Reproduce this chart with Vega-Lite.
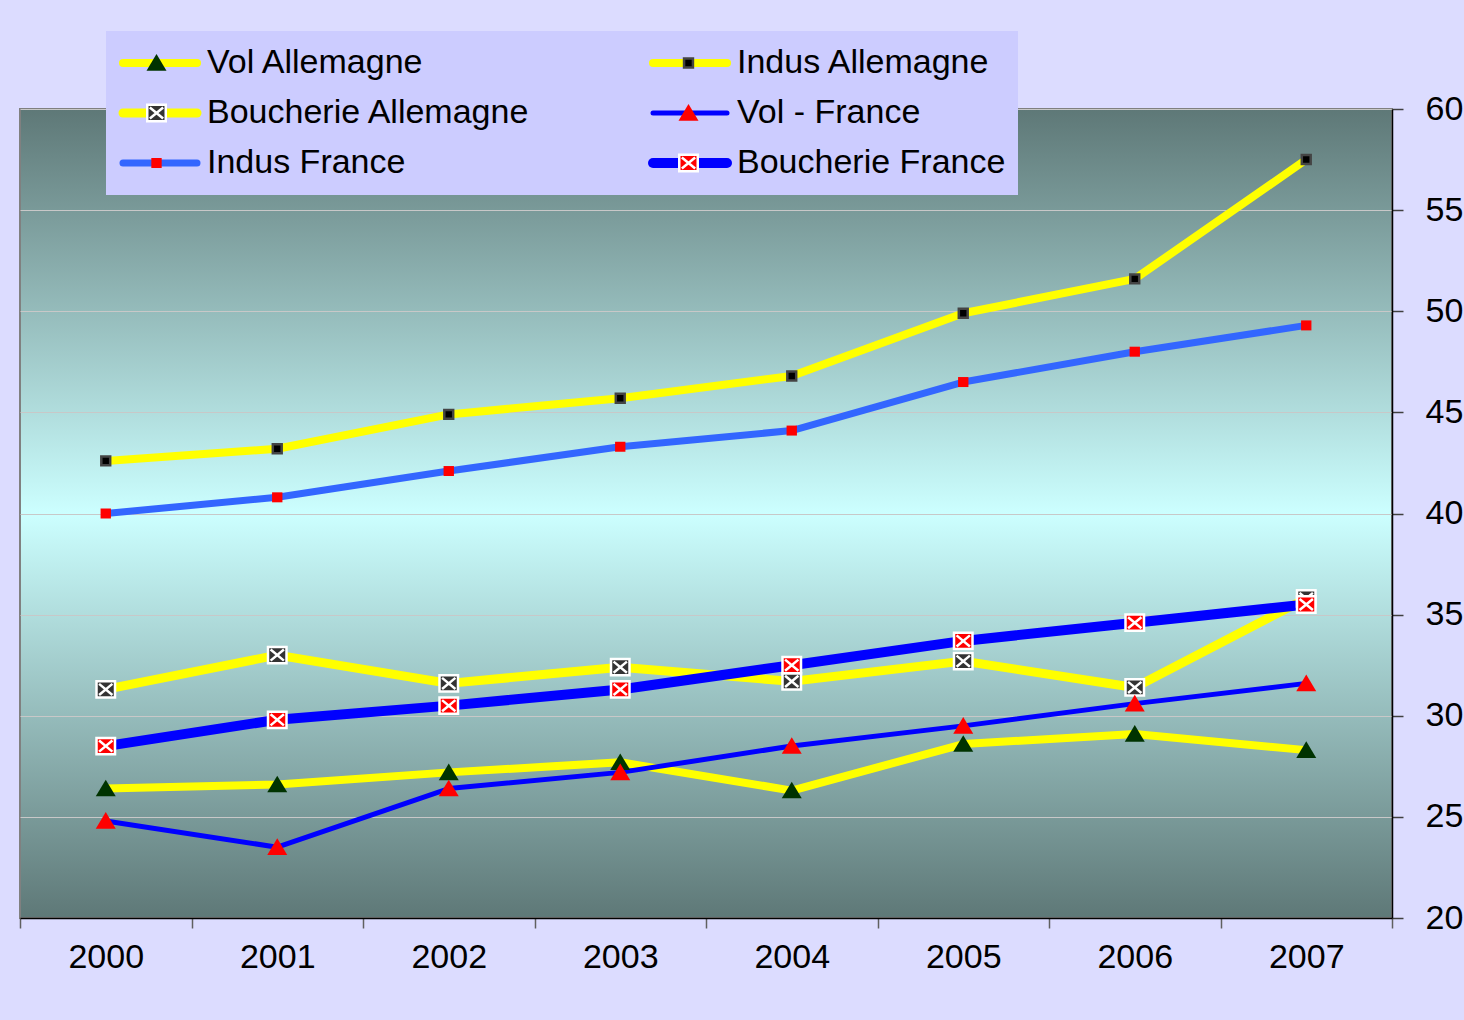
{
  "$schema": "https://vega.github.io/schema/vega-lite/v6.json",
  "width": 1372,
  "height": 809,
  "autosize": "none",
  "padding": {"left": 20, "top": 109, "right": 72, "bottom": 102},
  "background": "#DCDCFF",
  "view": {
    "stroke": "#808080",
    "strokeWidth": 2,
    "fill": {
      "gradient": "linear",
      "x1": 0, "y1": 0, "x2": 0, "y2": 1,
      "stops": [
        {"offset": 0, "color": "#5E7877"},
        {"offset": 0.5, "color": "#CCFFFF"},
        {"offset": 1, "color": "#5E7877"}
      ]
    }
  },
  "data": {
    "values": [
      {"annee": "2000", "serie": "Vol Allemagne", "valeur": 26.4},
      {"annee": "2001", "serie": "Vol Allemagne", "valeur": 26.6},
      {"annee": "2002", "serie": "Vol Allemagne", "valeur": 27.2},
      {"annee": "2003", "serie": "Vol Allemagne", "valeur": 27.7},
      {"annee": "2004", "serie": "Vol Allemagne", "valeur": 26.3},
      {"annee": "2005", "serie": "Vol Allemagne", "valeur": 28.6},
      {"annee": "2006", "serie": "Vol Allemagne", "valeur": 29.1},
      {"annee": "2007", "serie": "Vol Allemagne", "valeur": 28.3},
      {"annee": "2000", "serie": "Indus Allemagne", "valeur": 42.6},
      {"annee": "2001", "serie": "Indus Allemagne", "valeur": 43.2},
      {"annee": "2002", "serie": "Indus Allemagne", "valeur": 44.9},
      {"annee": "2003", "serie": "Indus Allemagne", "valeur": 45.7},
      {"annee": "2004", "serie": "Indus Allemagne", "valeur": 46.8},
      {"annee": "2005", "serie": "Indus Allemagne", "valeur": 49.9},
      {"annee": "2006", "serie": "Indus Allemagne", "valeur": 51.6},
      {"annee": "2007", "serie": "Indus Allemagne", "valeur": 57.5},
      {"annee": "2000", "serie": "Boucherie Allemagne", "valeur": 31.3},
      {"annee": "2001", "serie": "Boucherie Allemagne", "valeur": 33.0},
      {"annee": "2002", "serie": "Boucherie Allemagne", "valeur": 31.6},
      {"annee": "2003", "serie": "Boucherie Allemagne", "valeur": 32.4},
      {"annee": "2004", "serie": "Boucherie Allemagne", "valeur": 31.7},
      {"annee": "2005", "serie": "Boucherie Allemagne", "valeur": 32.7},
      {"annee": "2006", "serie": "Boucherie Allemagne", "valeur": 31.4},
      {"annee": "2007", "serie": "Boucherie Allemagne", "valeur": 35.8},
      {"annee": "2000", "serie": "Vol - France", "valeur": 24.8},
      {"annee": "2001", "serie": "Vol - France", "valeur": 23.5},
      {"annee": "2002", "serie": "Vol - France", "valeur": 26.4},
      {"annee": "2003", "serie": "Vol - France", "valeur": 27.2},
      {"annee": "2004", "serie": "Vol - France", "valeur": 28.5},
      {"annee": "2005", "serie": "Vol - France", "valeur": 29.5},
      {"annee": "2006", "serie": "Vol - France", "valeur": 30.6},
      {"annee": "2007", "serie": "Vol - France", "valeur": 31.6},
      {"annee": "2000", "serie": "Indus France", "valeur": 40.0},
      {"annee": "2001", "serie": "Indus France", "valeur": 40.8},
      {"annee": "2002", "serie": "Indus France", "valeur": 42.1},
      {"annee": "2003", "serie": "Indus France", "valeur": 43.3},
      {"annee": "2004", "serie": "Indus France", "valeur": 44.1},
      {"annee": "2005", "serie": "Indus France", "valeur": 46.5},
      {"annee": "2006", "serie": "Indus France", "valeur": 48.0},
      {"annee": "2007", "serie": "Indus France", "valeur": 49.3},
      {"annee": "2000", "serie": "Boucherie France", "valeur": 28.5},
      {"annee": "2001", "serie": "Boucherie France", "valeur": 29.8},
      {"annee": "2002", "serie": "Boucherie France", "valeur": 30.5},
      {"annee": "2003", "serie": "Boucherie France", "valeur": 31.3},
      {"annee": "2004", "serie": "Boucherie France", "valeur": 32.5},
      {"annee": "2005", "serie": "Boucherie France", "valeur": 33.7},
      {"annee": "2006", "serie": "Boucherie France", "valeur": 34.6},
      {"annee": "2007", "serie": "Boucherie France", "valeur": 35.5}
    ]
  },
  "encoding": {
    "x": {
      "field": "annee",
      "type": "ordinal",
      "scale": {"type": "band", "paddingInner": 0, "paddingOuter": 0},
      "axis": {
        "title": null,
        "labelAngle": 0,
        "tickBand": "extent",
        "labelFontSize": 34,
        "labelFont": "Liberation Sans",
        "labelColor": "black",
        "labelPadding": 12,
        "tickSize": 10,
        "tickColor": "#606060",
        "tickWidth": 1.5,
        "domainColor": "black",
        "domainWidth": 1.5,
        "grid": false
      }
    },
    "y": {
      "field": "valeur",
      "type": "quantitative",
      "scale": {"domain": [20, 60], "nice": false, "zero": false},
      "axis": {
        "title": null,
        "orient": "right",
        "values": [20, 25, 30, 35, 40, 45, 50, 55, 60],
        "labelFontSize": 34,
        "labelFont": "Liberation Sans",
        "labelColor": "black",
        "labelPadding": 22,
        "tickSize": 11,
        "tickColor": "#404040",
        "tickWidth": 1.5,
        "domainColor": "black",
        "domainWidth": 1.5,
        "grid": true,
        "gridColor": "#C8C8C8",
        "gridWidth": 1
      }
    }
  },
  "layer": [
    {
      "mark": {"type": "line", "strokeJoin": "round", "strokeCap": "butt"},
      "encoding": {
        "stroke": {
          "field": "serie",
          "type": "nominal",
          "scale": {
            "domain": ["Vol Allemagne", "Indus Allemagne", "Boucherie Allemagne", "Vol - France", "Indus France", "Boucherie France"],
            "range": ["#FFFF00", "#FFFF00", "#FFFF00", "#0000FF", "#3366FF", "#0000FF"]
          },
          "legend": {
            "orient": "none", "legendX": 86, "legendY": -78, "columns": 2, "direction": "horizontal", "title": null,
            "symbolType": "stroke", "symbolSize": 5476, "clipHeight": 40,
            "labelFontSize": 34, "labelFont": "Liberation Sans", "labelColor": "black",
            "labelOffset": 5, "labelLimit": 800, "rowPadding": 10, "columnPadding": 117,
            "padding": 12, "fillColor": "#CCCCFF",
            "encode": {"symbols": {"update": {"strokeCap": {"value": "round"}}}}
          }
        },
        "strokeWidth": {
          "field": "serie",
          "type": "nominal",
          "scale": {
            "type": "ordinal",
            "domain": ["Vol Allemagne", "Indus Allemagne", "Boucherie Allemagne", "Vol - France", "Indus France", "Boucherie France"],
            "range": [8, 8, 9, 5, 7, 10]
          },
          "legend": {
            "orient": "none", "legendX": 86, "legendY": -78, "columns": 2, "direction": "horizontal", "title": null,
            "symbolType": "stroke", "symbolSize": 5476, "clipHeight": 40,
            "labelFontSize": 34, "labelFont": "Liberation Sans", "labelColor": "black",
            "labelOffset": 5, "labelLimit": 800, "rowPadding": 10, "columnPadding": 117,
            "padding": 12, "fillColor": "#CCCCFF",
            "encode": {"symbols": {"update": {"strokeCap": {"value": "round"}}}}
          }
        }
      }
    },
    {
      "mark": {"type": "point", "filled": true, "opacity": 1, "size": 5476, "strokeWidth": 2.5},
      "encoding": {
        "fill": {
          "field": "serie",
          "type": "nominal",
          "sort": null,
          "scale": {"range": ["#003300", "#000000", "#333333", "#FF0000", "#FF0000", "#FF0000"]},
          "legend": {
            "orient": "none", "legendX": 86, "legendY": -78, "columns": 2, "direction": "horizontal", "title": null,
            "symbolSize": 5476, "symbolStrokeWidth": 2.5, "clipHeight": 40,
            "labelExpr": "''", "labelFontSize": 34, "labelOpacity": 0,
            "labelOffset": 5, "labelLimit": 800, "rowPadding": 10, "columnPadding": 450,
            "padding": 12
          }
        },
        "shape": {
          "field": "serie",
          "type": "nominal",
          "sort": null,
          "scale": {"range": [
            "M-0.27,0.21L0,-0.24L0.27,0.21Z",
            "M-0.12,-0.12H0.12V0.12H-0.12Z",
            "M-0.25,-0.22H0.25V0.22H-0.25Z M-0.18,-0.15L0.18,0.15 M0.18,-0.15L-0.18,0.15",
            "M-0.27,0.21L0,-0.24L0.27,0.21Z",
            "M-0.14,-0.135H0.14V0.135H-0.14Z",
            "M-0.25,-0.22H0.25V0.22H-0.25Z M-0.18,-0.15L0.18,0.15 M0.18,-0.15L-0.18,0.15"
          ]},
          "legend": {
            "orient": "none", "legendX": 86, "legendY": -78, "columns": 2, "direction": "horizontal", "title": null,
            "symbolSize": 5476, "symbolStrokeWidth": 2.5, "clipHeight": 40,
            "labelExpr": "''", "labelFontSize": 34, "labelOpacity": 0,
            "labelOffset": 5, "labelLimit": 800, "rowPadding": 10, "columnPadding": 450,
            "padding": 12
          }
        },
        "stroke": {
          "field": "serie",
          "type": "nominal",
          "sort": null,
          "scale": {"range": ["transparent", "#444444", "#FFFFFF", "transparent", "transparent", "#FFFFFF"]},
          "legend": {
            "orient": "none", "legendX": 86, "legendY": -78, "columns": 2, "direction": "horizontal", "title": null,
            "symbolSize": 5476, "symbolStrokeWidth": 2.5, "clipHeight": 40,
            "labelExpr": "''", "labelFontSize": 34, "labelOpacity": 0,
            "labelOffset": 5, "labelLimit": 800, "rowPadding": 10, "columnPadding": 450,
            "padding": 12
          }
        }
      }
    }
  ],
  "resolve": {
    "scale": {"stroke": "independent"},
    "legend": {"stroke": "independent", "strokeWidth": "independent", "fill": "independent", "shape": "independent"}
  }
}
